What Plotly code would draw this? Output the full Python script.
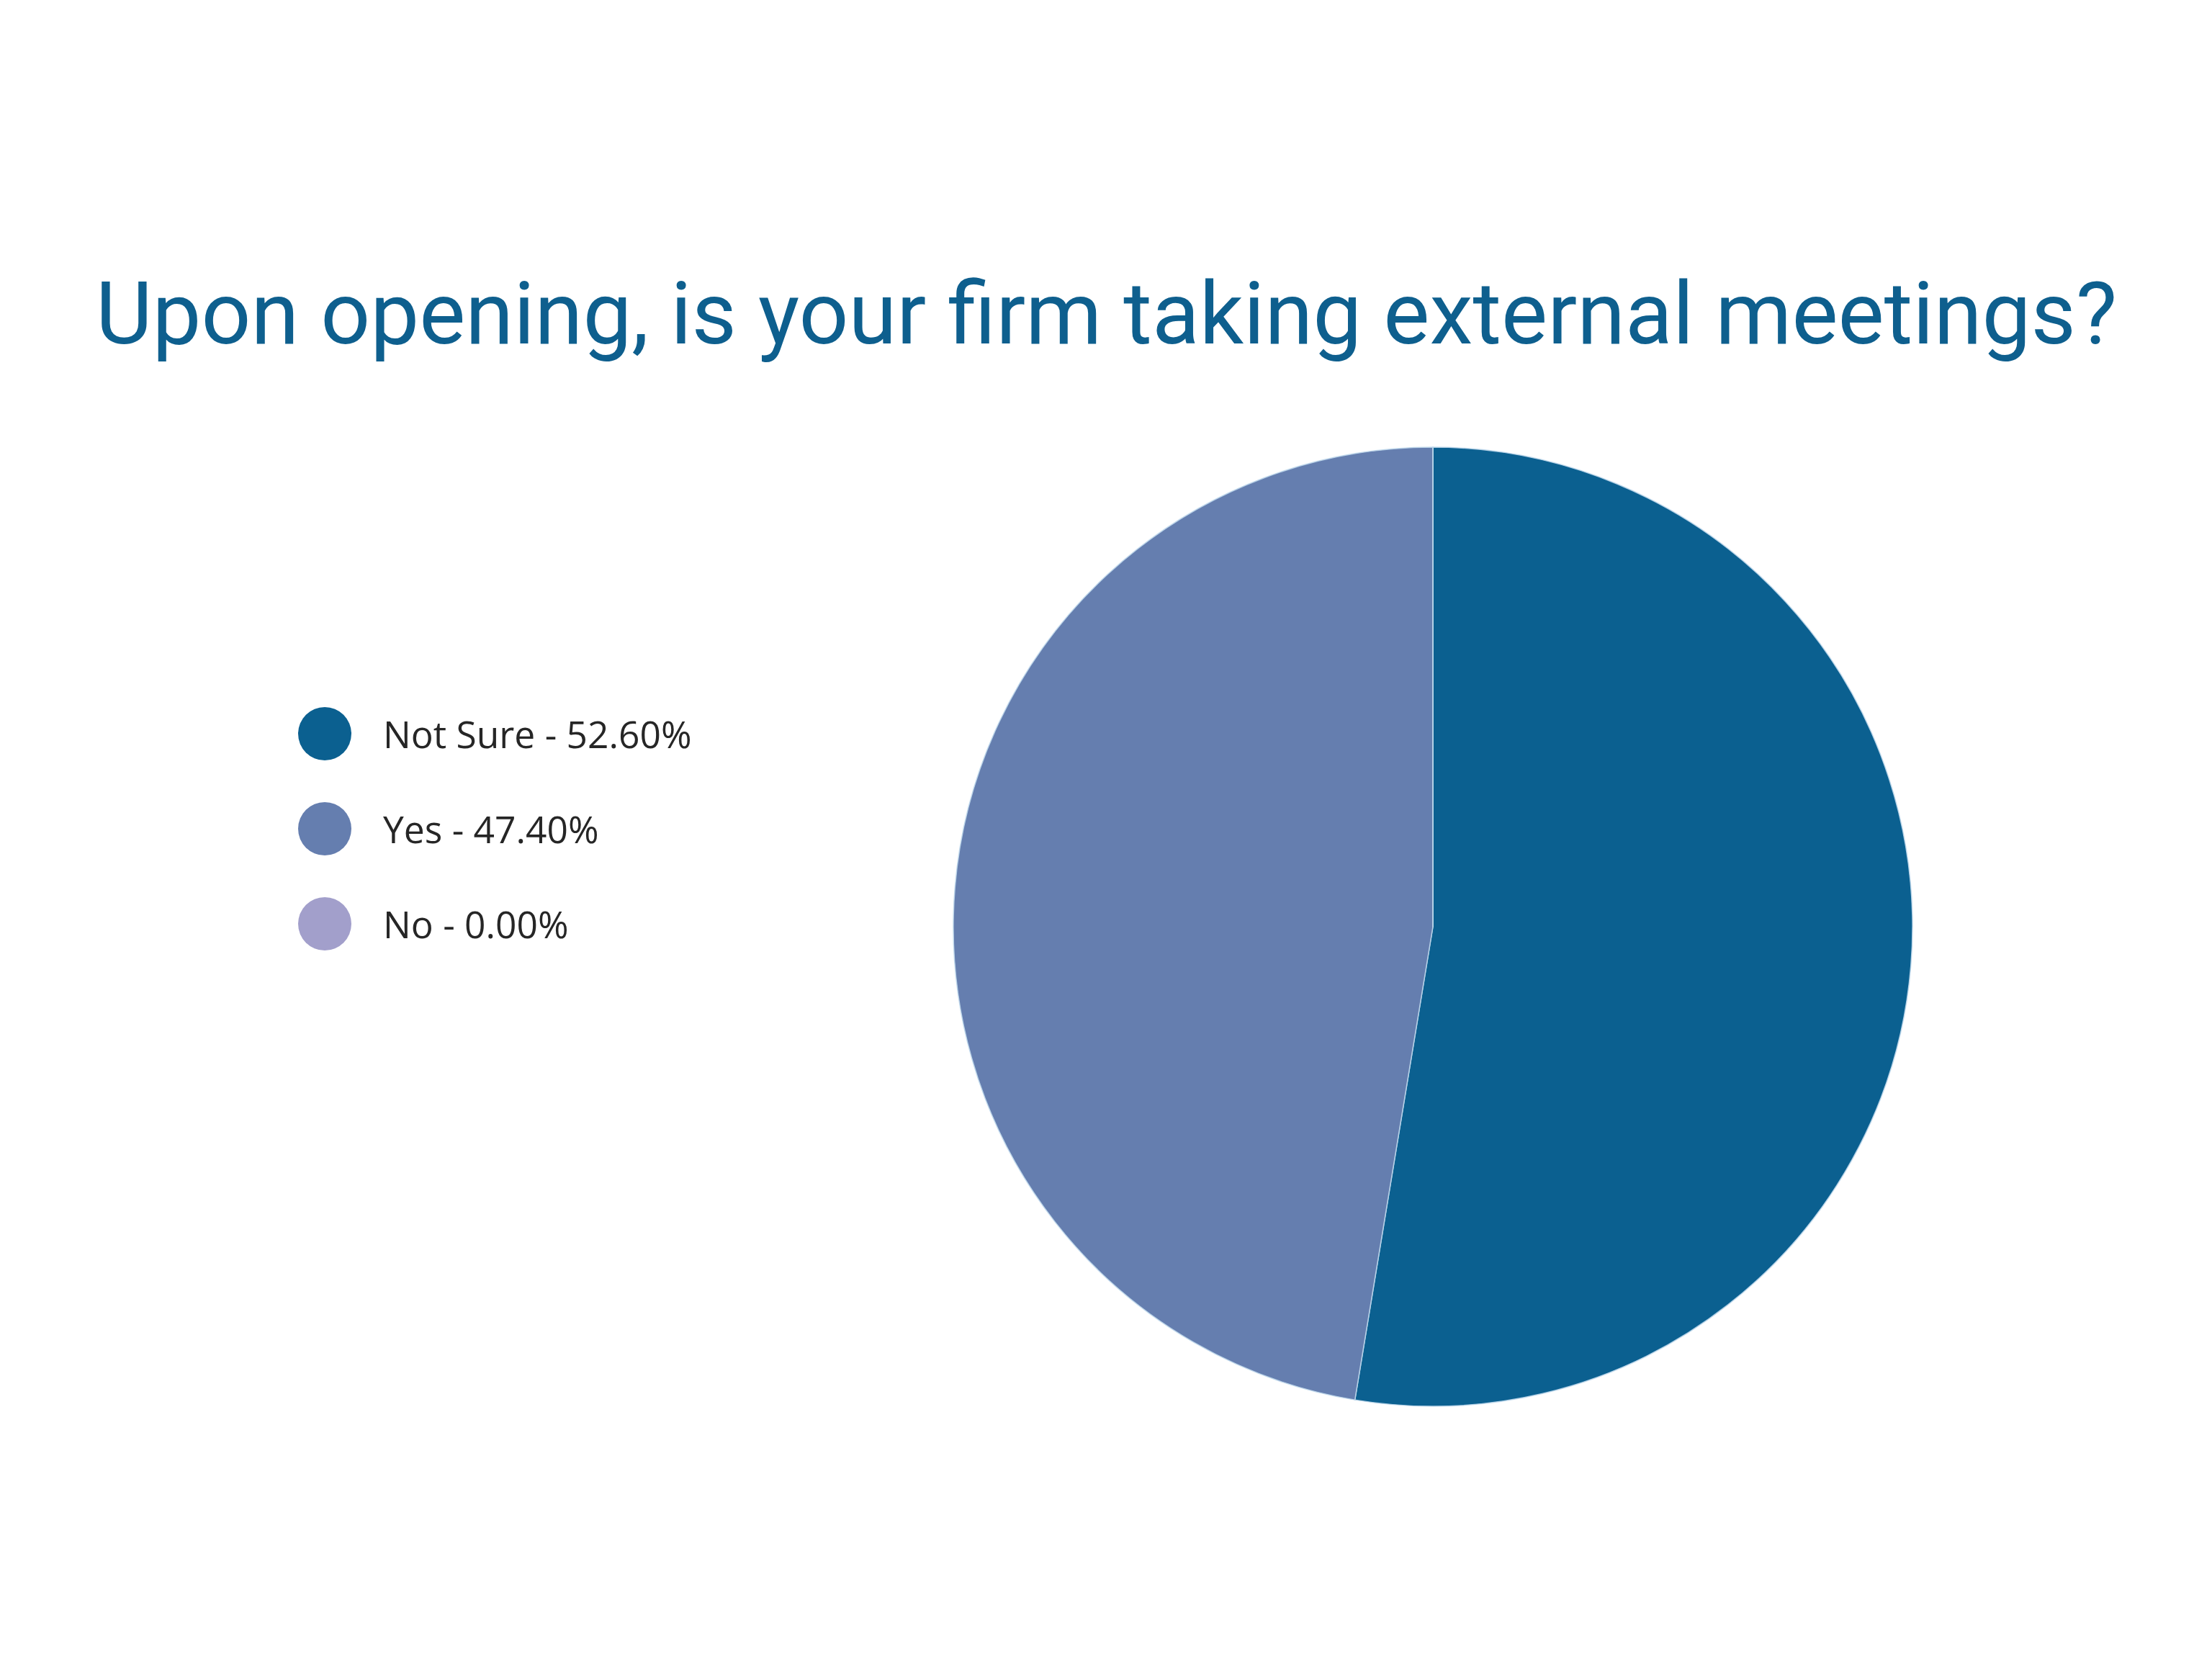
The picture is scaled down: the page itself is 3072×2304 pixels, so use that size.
import plotly.graph_objects as go

# Data
categories = ["Not Sure", "Yes", "No"]
values = [52.60, 47.40, 0.00]
colors = ["#0b6090", "#657eaf", "#a29fcb"]
title_text = "Upon opening, is your firm taking external meetings?"

W, H = 3072, 2304
OFF = 8  # page body margin

cx, cy, r = 1990 - OFF, 1287 - OFF, 666

fig = go.Figure()

fig.add_trace(go.Pie(
    labels=categories,
    values=values,
    marker=dict(colors=colors, line=dict(color="rgba(190,215,235,0.9)", width=1.5)),
    sort=False,
    direction="clockwise",
    rotation=0,
    textinfo="none",
    hoverinfo="label+percent",
    showlegend=False,
    domain=dict(x=[(cx - r) / W, (cx + r) / W],
                y=[1 - (cy + r) / H, 1 - (cy - r) / H]),
))

# Custom legend: markers on a hidden pixel-scaled axis
leg_x0 = 451 - OFF
leg_y0 = 1019 - OFF
leg_dy = 132
leg_y = [leg_y0 + i * leg_dy for i in range(len(categories))]
fig.add_trace(go.Scatter(
    x=[leg_x0] * len(categories),
    y=leg_y,
    mode="markers",
    marker=dict(size=74, color=colors, line=dict(width=0)),
    hoverinfo="skip",
    showlegend=False,
))
annotations = []
for cat, val, yy in zip(categories, values, leg_y):
    annotations.append(dict(
        x=522, y=yy, xref="x", yref="y",
        text=f"{cat} - {val:.2f}%",
        showarrow=False, xanchor="left", yanchor="middle",
        font=dict(family="Open Sans", size=51.5, color="#262626"),
    ))

annotations.append(dict(
    x=0.5 - OFF / W, y=1 - 428 / H, xref="paper", yref="paper",
    text=title_text, showarrow=False, xanchor="center", yanchor="middle",
    font=dict(family="Roboto", size=121, color="#0e5f8e"),
))

fig.update_layout(
    width=W, height=H,
    margin=dict(l=0, r=0, t=0, b=0),
    paper_bgcolor="white",
    plot_bgcolor="white",
    xaxis=dict(range=[0, W], visible=False, domain=[0, 1], fixedrange=True),
    yaxis=dict(range=[H, 0], visible=False, domain=[0, 1], fixedrange=True),
    annotations=annotations,
)

fig.write_html("out.html")
